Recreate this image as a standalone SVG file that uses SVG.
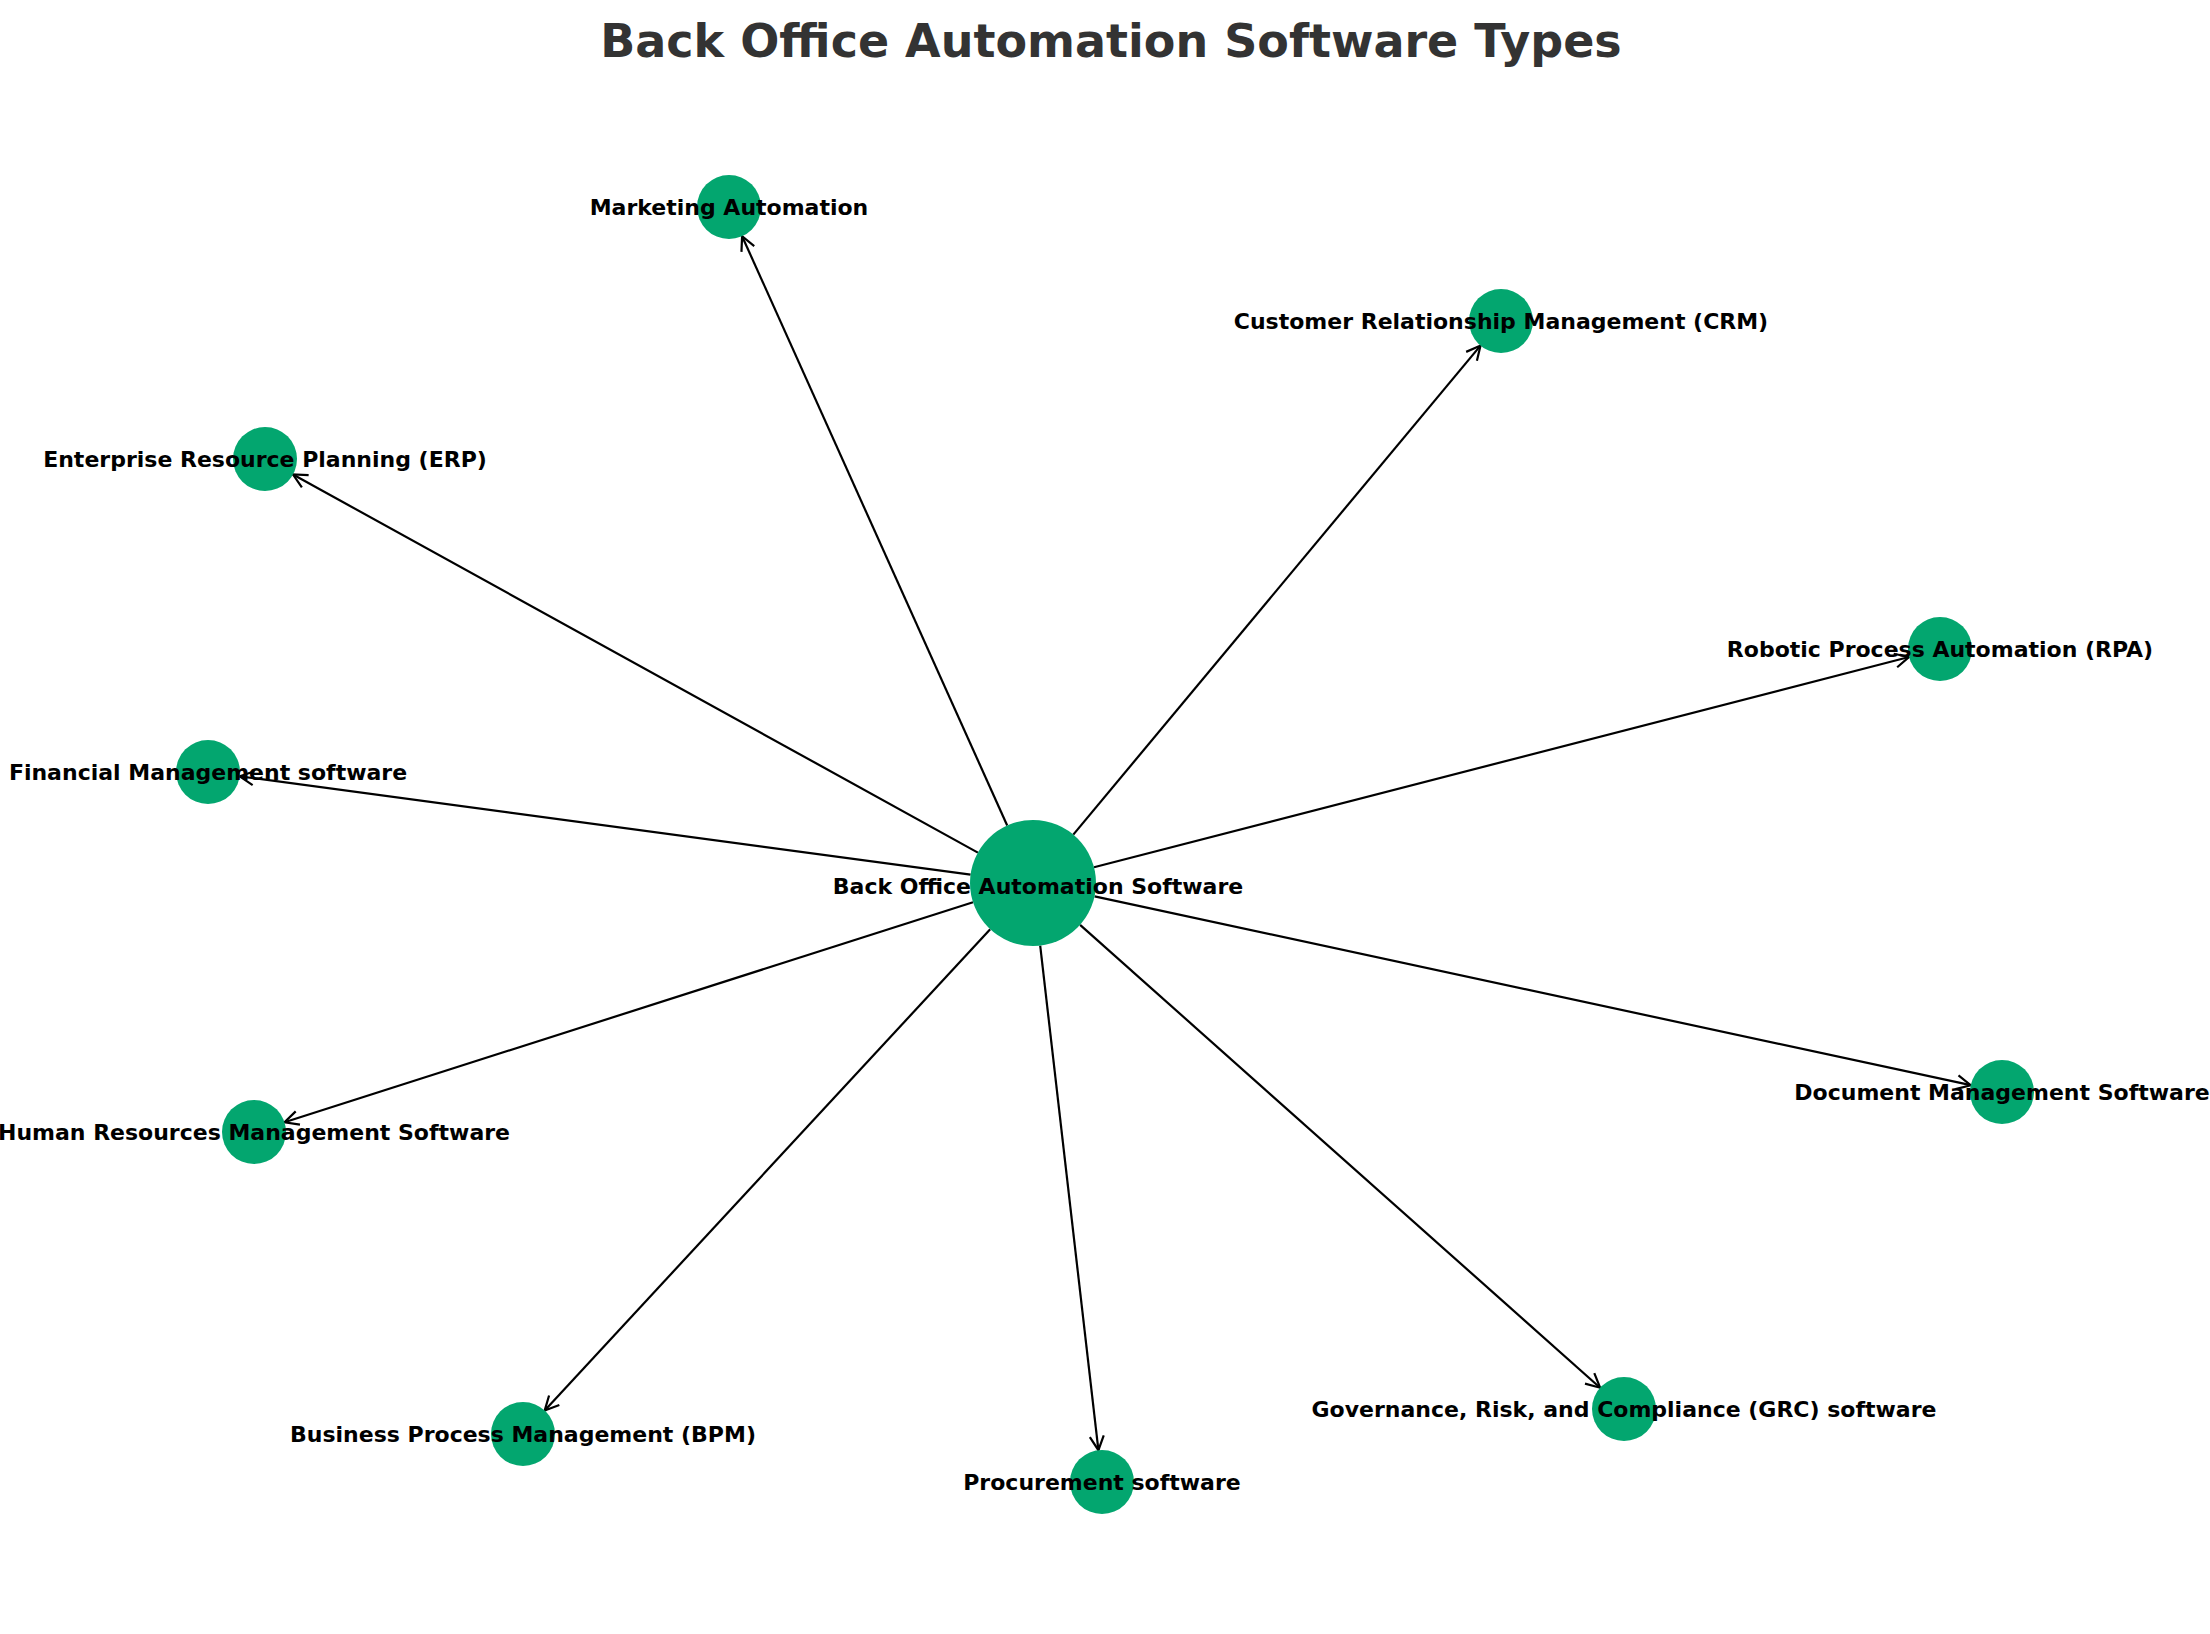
<svg xmlns="http://www.w3.org/2000/svg" width="2210" height="1634" viewBox="0 0 2210 1634">
<style>
.n{fill:#03a66f}
.l{font-family:"DejaVu Sans",sans-serif;font-weight:bold;font-size:22px;fill:#000;text-anchor:middle;dominant-baseline:central}
.e{stroke:#000;stroke-width:2.2;fill:none;marker-end:url(#a)}
</style>
<defs>
<marker id="a" markerUnits="userSpaceOnUse" markerWidth="20" markerHeight="20" viewBox="0 0 20 20" refX="15" refY="10" orient="auto">
<path d="M1,3 L15,10 L1,17" fill="none" stroke="#000" stroke-width="2.2"/>
</marker>
</defs>
<rect width="2210" height="1634" fill="#fff"/>
<text x="1111" y="57" font-family="DejaVu Sans,sans-serif" font-weight="bold" font-size="46" fill="#333" text-anchor="middle">Back Office Automation Software Types</text>
<g id="edges">
<line class="e" x1="1007.2" y1="825.5" x2="742.1" y2="236.2"/>
<line class="e" x1="1073.3" y1="834.6" x2="1480.5" y2="345.6"/>
<line class="e" x1="977.9" y1="852.6" x2="293" y2="474.5"/>
<line class="e" x1="970.6" y1="874.6" x2="239.7" y2="776.3"/>
<line class="e" x1="973" y1="902.2" x2="284.5" y2="1122.3"/>
<line class="e" x1="990.2" y1="929.2" x2="544.7" y2="1410.5"/>
<line class="e" x1="1040.2" y1="945.6" x2="1098.4" y2="1450.2"/>
<line class="e" x1="1080.1" y1="924.9" x2="1600.1" y2="1387.7"/>
<line class="e" x1="1094.6" y1="896.3" x2="1970.7" y2="1085.2"/>
<line class="e" x1="1094" y1="867.3" x2="1909" y2="657"/>
</g>
<g id="center"><circle class="n" cx="1033" cy="883" r="63"/><text class="l" x="1038" y="886">Back Office Automation Software</text></g>
<g id="marketing"><circle class="n" cx="729" cy="207" r="32"/><text class="l" x="729" y="207">Marketing Automation</text></g>
<g id="crm"><circle class="n" cx="1501" cy="321" r="32"/><text class="l" x="1501" y="321">Customer Relationship Management (CRM)</text></g>
<g id="erp"><circle class="n" cx="265" cy="459" r="32"/><text class="l" x="265" y="459">Enterprise Resource Planning (ERP)</text></g>
<g id="fin"><circle class="n" cx="208" cy="772" r="32"/><text class="l" x="208" y="772">Financial Management software</text></g>
<g id="hr"><circle class="n" cx="254" cy="1132" r="32"/><text class="l" x="254" y="1132">Human Resources Management Software</text></g>
<g id="bpm"><circle class="n" cx="523" cy="1434" r="32"/><text class="l" x="523" y="1434">Business Process Management (BPM)</text></g>
<g id="proc"><circle class="n" cx="1102" cy="1482" r="32"/><text class="l" x="1102" y="1482">Procurement software</text></g>
<g id="grc"><circle class="n" cx="1624" cy="1409" r="32"/><text class="l" x="1624" y="1409">Governance, Risk, and Compliance (GRC) software</text></g>
<g id="doc"><circle class="n" cx="2002" cy="1092" r="32"/><text class="l" x="2002" y="1092">Document Management Software</text></g>
<g id="rpa"><circle class="n" cx="1940" cy="649" r="32"/><text class="l" x="1940" y="649">Robotic Process Automation (RPA)</text></g>
</svg>
